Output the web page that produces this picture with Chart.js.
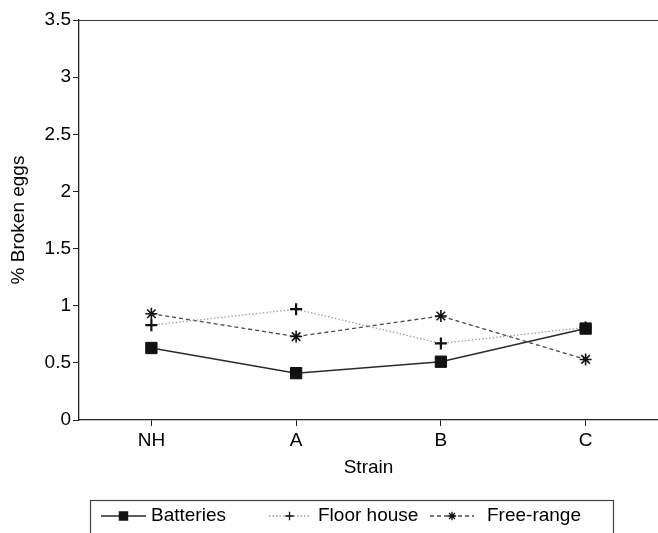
<!DOCTYPE html>
<html>
<head>
<meta charset="utf-8">
<script src="https://cdn.jsdelivr.net/npm/chart.js@4/dist/chart.umd.min.js"></script>
<style>
  html, body { margin: 0; padding: 0; background: #fff; }
  #wrap { width: 658px; height: 533px; }
</style>
</head>
<body>
<div id="wrap"><canvas id="eggs" width="658" height="533"></canvas></div>
<script>
const strains = ["NH", "A", "B", "C"];
const batteries = [0.63, 0.41, 0.51, 0.80];
const floorHouse = [0.83, 0.97, 0.67, 0.81];
const freeRange = [0.93, 0.73, 0.91, 0.53];
const seriesNames = ["Batteries", "Floor house", "Free-range"];

const FONT = "'Liberation Sans', Arial, Helvetica, sans-serif";
const INK = "#000";

// legend sample positions (line start, line end, text x)
const legendSlots = [
    [101, 146, 151],
    [269, 310, 318],
    [430, 474, 487]
];

const framePlugin = {
    id: "frame",
    afterDraw(chart) {
        const ctx = chart.ctx;
        const area = chart.chartArea;
        ctx.save();

        // top frame line
        ctx.strokeStyle = "#333";
        ctx.lineWidth = 1.2;
        ctx.beginPath();
        ctx.moveTo(area.left, area.top + 0.5);
        ctx.lineTo(chart.width, area.top + 0.5);
        ctx.stroke();

        // legend box
        ctx.strokeStyle = "#444";
        ctx.lineWidth = 1.2;
        ctx.strokeRect(90.5, 500.5, 523, 45);

        const y = 516;
        chart.data.datasets.forEach((ds, i) => {
            const [x0, x1, tx] = legendSlots[i];
            ctx.save();
            ctx.strokeStyle = ds.borderColor;
            ctx.lineWidth = ds.borderWidth;
            ctx.setLineDash(ds.borderDash || []);
            ctx.beginPath();
            ctx.moveTo(x0, y);
            ctx.lineTo(x1, y);
            ctx.stroke();
            ctx.setLineDash([]);
            ctx.fillStyle = ds.pointBackgroundColor;
            ctx.strokeStyle = ds.pointBorderColor;
            Chart.helpers.drawPoint(ctx, {
                pointStyle: ds.pointStyle,
                radius: ds.pointRadius * 0.7,
                rotation: 0,
                borderWidth: ds.pointBorderWidth
            }, (x0 + x1) / 2, y);
            ctx.restore();

            ctx.fillStyle = INK;
            ctx.font = "19px " + FONT;
            ctx.textBaseline = "middle";
            ctx.textAlign = "left";
            ctx.fillText(ds.label, tx, y);
        });

        ctx.restore();
    }
};

new Chart(document.getElementById("eggs"), {
    type: "line",
    data: {
        labels: strains,
        datasets: [
            {
                label: seriesNames[0],
                data: batteries,
                borderColor: "#2a2a2a",
                borderWidth: 1.5,
                pointStyle: "rect",
                pointRadius: 8,
                pointBackgroundColor: "#111",
                pointBorderColor: "#111",
                pointBorderWidth: 1
            },
            {
                label: seriesNames[1],
                data: floorHouse,
                borderColor: "#a0a0a0",
                borderWidth: 1.3,
                borderDash: [1.5, 2],
                pointStyle: "cross",
                pointRadius: 6,
                pointBackgroundColor: "#111",
                pointBorderColor: "#111",
                pointBorderWidth: 2.2
            },
            {
                label: seriesNames[2],
                data: freeRange,
                borderColor: "#4a4a4a",
                borderWidth: 1.3,
                borderDash: [4, 3],
                pointStyle: "star",
                pointRadius: 6,
                pointBackgroundColor: "#111",
                pointBorderColor: "#111",
                pointBorderWidth: 1.6
            }
        ]
    },
    options: {
        responsive: false,
        animation: false,
        events: [],
        layout: { autoPadding: false, padding: { left: 0, right: 0, top: 20, bottom: 53 } },
        plugins: {
            legend: { display: false },
            tooltip: { enabled: false }
        },
        elements: { line: { tension: 0 } },
        scales: {
            x: {
                offset: true,
                afterFit(scale) { scale.height = 60; },
                border: { display: true, color: "#222", width: 1.3 },
                grid: { display: true, drawOnChartArea: false, drawTicks: true, tickLength: 6, color: "#222", offset: false },
                ticks: { color: INK, font: { family: FONT, size: 19 }, padding: 3, maxRotation: 0 },
                title: { display: true, text: "Strain", color: INK, font: { family: FONT, size: 19 }, padding: { top: 0, bottom: 1 } }
            },
            y: {
                min: 0,
                max: 3.5,
                afterFit(scale) { scale.width = 79; },
                border: { display: true, color: "#222", width: 1.3 },
                grid: { display: true, drawOnChartArea: false, drawTicks: true, tickLength: 6, color: "#222" },
                ticks: {
                    stepSize: 0.5,
                    color: INK,
                    font: { family: FONT, size: 19 },
                    padding: 2,
                    callback: (v) => String(v)
                },
                title: { display: true, text: "% Broken eggs", color: INK, font: { family: FONT, size: 19 }, padding: { top: 7, bottom: 0 } }
            }
        }
    },
    plugins: [framePlugin]
});
</script>
</body>
</html>
